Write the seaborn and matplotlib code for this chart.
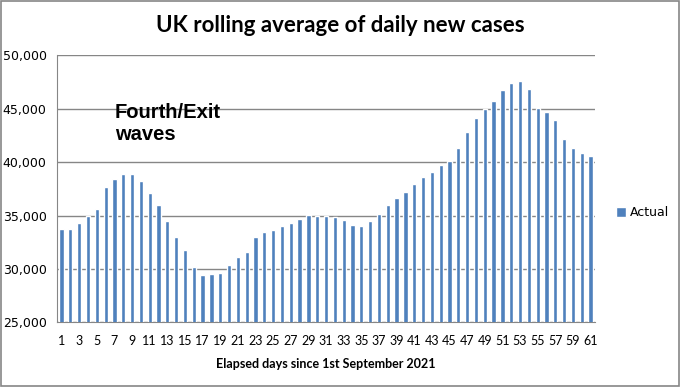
import numpy as np
import seaborn as sns
import matplotlib.pyplot as plt
from matplotlib.patches import Rectangle
from matplotlib.ticker import FuncFormatter, MultipleLocator

# rolling average of daily new cases
days = list(range(1, 62))
cases = [33700, 33700, 34300, 35000, 35600, 37700, 38400, 38900, 38900, 38250,
         37100, 36000, 34500, 33000, 31800, 30200, 29450, 29530, 29620, 30380,
         31130, 31600, 33000, 33470, 33660, 34030, 34310, 34690, 35060, 35000,
         35000, 34880, 34600, 34130, 34030, 34500, 35160, 36000, 36660, 37220,
         37970, 38630, 39100, 39750, 40130, 41340, 42840, 44160, 44940, 45750,
         46780, 47440, 47630, 46880, 45100, 44720, 43970, 42200, 41350, 40880,
         40600]
title = "UK rolling average of daily new cases"
xlabel = "Elapsed days since 1st September 2021"
note = "Fourth/Exit\nwaves"

sns.set_style("white")
plt.rcParams['font.family'] = ['DejaVu Sans']
plt.rcParams.update({"text.color": "black", "axes.labelcolor": "black",
                     "xtick.labelcolor": "black", "ytick.labelcolor": "black"})

fig = plt.figure(figsize=(6.8, 3.87), dpi=100)
ax = fig.add_axes([0.084, 0.167, 0.791, 0.69])

sns.barplot(x=days, y=cases, color="#4F81BD", saturation=1, width=0.48,
            label="Actual", ax=ax, zorder=3)

ax.set_ylim(25000, 50000)
ax.set_xlim(-0.5, len(days) - 0.5)
ax.yaxis.set_major_locator(MultipleLocator(5000))
ax.yaxis.set_major_formatter(FuncFormatter(lambda v, p: f"{int(v):,}"))
ax.grid(axis="y", color="#868686", linewidth=1, zorder=0)

# labels on every other day, tick marks between categories
pos = np.arange(len(days))
ax.set_xticks(pos[::2])
ax.set_xticklabels([str(d) for d in days[::2]], fontfamily="Lato", fontsize=9)
ax.set_xticks(pos[:-1] + 0.5, minor=True)
ax.tick_params(axis="x", which="major", length=0, pad=9)
ax.tick_params(axis="x", which="minor", length=4, color="#868686", width=1)
ax.tick_params(axis="y", length=4, color="#868686", labelsize=9)

for s in ["top", "right"]:
    ax.spines[s].set_visible(False)
for s in ["left", "bottom"]:
    ax.spines[s].set_color("#868686")

ax.set_xlabel(xlabel, fontfamily="Lato", fontweight="bold", fontsize=9, labelpad=8)
ax.set_ylabel("")

fig.text(0.5, 0.933, title, ha="center", va="center", fontfamily="Lato",
         fontweight="bold", fontsize=16)
fig.text(0.169, 0.735, note, ha="left", va="top", fontfamily="Liberation Sans",
         fontweight="bold", fontsize=14.5, linespacing=1.2)

ax.legend(loc="center left", bbox_to_anchor=(0.906, 0.45),
          bbox_transform=fig.transFigure, frameon=False, borderpad=0,
          borderaxespad=0, handlelength=0.8, handleheight=0.8,
          handletextpad=0.3, fontsize=9)

fig.patches.append(Rectangle((0.001, 0.002), 0.997, 0.995, transform=fig.transFigure,
                             fill=False, edgecolor="#868686", linewidth=1.2))

fig.savefig("out.png", dpi=100)
